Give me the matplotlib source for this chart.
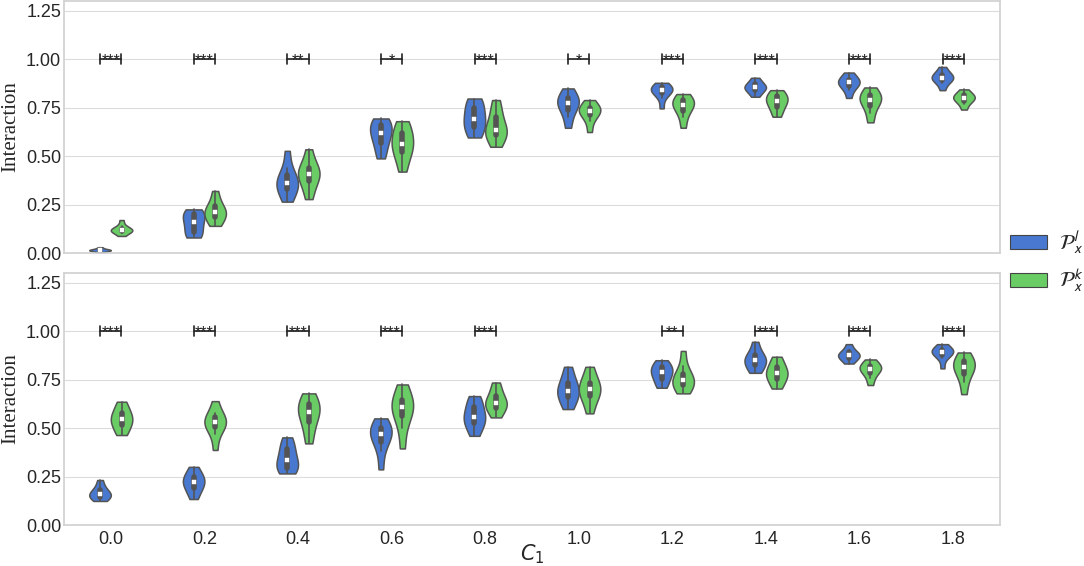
import numpy as np
import pandas as pd
import matplotlib
matplotlib.use("Agg")
import matplotlib.pyplot as plt
import seaborn as sns
from matplotlib.patches import Patch
from matplotlib.font_manager import FontProperties

c1_labels = ["0.0", "0.2", "0.4", "0.6", "0.8", "1.0", "1.2", "1.4", "1.6", "1.8"]
groups = ["l", "k"]
legend_labels = [r"$\mathcal{P}^l_x$", r"$\mathcal{P}^k_x$"]

# estimated samples (top panel, P^l)
top_l = [
    [0.005, 0.010, 0.012, 0.014, 0.015, 0.016, 0.018, 0.022, 0.030],
    [0.080, 0.090, 0.110, 0.140, 0.160, 0.180, 0.200, 0.210, 0.225],
    [0.265, 0.300, 0.330, 0.350, 0.362, 0.375, 0.400, 0.440, 0.527],
    [0.488, 0.530, 0.570, 0.600, 0.617, 0.640, 0.660, 0.680, 0.694],
    [0.596, 0.620, 0.650, 0.675, 0.690, 0.720, 0.750, 0.780, 0.797],
    [0.646, 0.700, 0.740, 0.760, 0.772, 0.785, 0.800, 0.820, 0.849],
    [0.746, 0.800, 0.825, 0.835, 0.840, 0.845, 0.855, 0.865, 0.878],
    [0.806, 0.825, 0.840, 0.850, 0.854, 0.860, 0.870, 0.885, 0.904],
    [0.800, 0.840, 0.860, 0.872, 0.880, 0.886, 0.895, 0.910, 0.931],
    [0.840, 0.875, 0.890, 0.900, 0.904, 0.910, 0.920, 0.935, 0.960],
]
# top panel, P^k
top_k = [
    [0.088, 0.105, 0.112, 0.116, 0.118, 0.121, 0.126, 0.140, 0.170],
    [0.140, 0.160, 0.185, 0.200, 0.210, 0.220, 0.240, 0.270, 0.320],
    [0.278, 0.330, 0.370, 0.395, 0.407, 0.420, 0.440, 0.470, 0.535],
    [0.420, 0.480, 0.520, 0.545, 0.562, 0.590, 0.620, 0.650, 0.680],
    [0.548, 0.590, 0.610, 0.625, 0.634, 0.660, 0.700, 0.740, 0.789],
    [0.624, 0.680, 0.710, 0.725, 0.733, 0.740, 0.750, 0.765, 0.789],
    [0.646, 0.700, 0.735, 0.755, 0.763, 0.775, 0.790, 0.800, 0.820],
    [0.703, 0.730, 0.755, 0.775, 0.784, 0.795, 0.810, 0.825, 0.840],
    [0.674, 0.720, 0.760, 0.780, 0.789, 0.800, 0.815, 0.830, 0.854],
    [0.740, 0.770, 0.785, 0.795, 0.800, 0.806, 0.815, 0.825, 0.844],
]
# bottom panel, P^l
bot_l = [
    [0.124, 0.135, 0.145, 0.152, 0.160, 0.168, 0.180, 0.200, 0.232],
    [0.134, 0.170, 0.190, 0.210, 0.223, 0.235, 0.250, 0.270, 0.300],
    [0.266, 0.280, 0.295, 0.315, 0.335, 0.360, 0.390, 0.420, 0.452],
    [0.287, 0.380, 0.430, 0.455, 0.469, 0.485, 0.500, 0.520, 0.550],
    [0.460, 0.500, 0.525, 0.545, 0.558, 0.580, 0.610, 0.640, 0.665],
    [0.598, 0.630, 0.660, 0.680, 0.692, 0.710, 0.735, 0.770, 0.816],
    [0.708, 0.730, 0.755, 0.775, 0.787, 0.800, 0.815, 0.830, 0.850],
    [0.785, 0.800, 0.825, 0.840, 0.850, 0.860, 0.875, 0.900, 0.945],
    [0.833, 0.850, 0.862, 0.870, 0.876, 0.882, 0.890, 0.905, 0.933],
    [0.808, 0.860, 0.878, 0.888, 0.893, 0.898, 0.905, 0.915, 0.933],
]
# bottom panel, P^k
bot_k = [
    [0.464, 0.490, 0.515, 0.535, 0.545, 0.560, 0.580, 0.605, 0.636],
    [0.387, 0.470, 0.505, 0.520, 0.531, 0.540, 0.555, 0.580, 0.639],
    [0.421, 0.480, 0.530, 0.565, 0.584, 0.600, 0.625, 0.650, 0.679],
    [0.395, 0.500, 0.560, 0.590, 0.607, 0.620, 0.645, 0.680, 0.725],
    [0.555, 0.585, 0.605, 0.620, 0.630, 0.645, 0.665, 0.700, 0.735],
    [0.576, 0.630, 0.665, 0.685, 0.700, 0.715, 0.735, 0.770, 0.816],
    [0.679, 0.700, 0.720, 0.738, 0.747, 0.760, 0.780, 0.820, 0.898],
    [0.704, 0.730, 0.755, 0.772, 0.782, 0.795, 0.815, 0.840, 0.868],
    [0.722, 0.760, 0.785, 0.800, 0.806, 0.812, 0.822, 0.835, 0.854],
    [0.675, 0.740, 0.780, 0.805, 0.816, 0.828, 0.845, 0.865, 0.890],
]
stars_top = ["***", "***", "**", "*", "***", "*", "***", "***", "***", "***"]
stars_bot = ["***", "***", "***", "***", "***", "", "**", "***", "***", "***"]

sns.set_style("whitegrid")
plt.rcParams["font.family"] = ["Liberation Sans", "DejaVu Sans"]
plt.rcParams["axes.edgecolor"] = "#d0d0d0"
plt.rcParams["grid.color"] = "#dcdcdc"

palette = {"l": "#4878d0", "k": "#6acc64"}


def long_frame(lv, kv):
    rows = []
    for lab, sl, sk in zip(c1_labels, lv, kv):
        for v in sl:
            rows.append((lab, "l", v))
        for v in sk:
            rows.append((lab, "k", v))
    return pd.DataFrame(rows, columns=["C1", "grp", "val"])


fig = plt.figure(figsize=(10.84, 5.66), dpi=100)
ax_top = fig.add_axes([64 / 1084, 1 - 253 / 566, 936 / 1084, 252 / 566])
ax_bot = fig.add_axes([64 / 1084, 1 - 525 / 566, 936 / 1084, 252 / 566])

ver = tuple(int(p) for p in sns.__version__.split(".")[:2])

for ax, lv, kv, stars in [(ax_top, top_l, top_k, stars_top), (ax_bot, bot_l, bot_k, stars_bot)]:
    df = long_frame(lv, kv)
    kw = dict(data=df, x="C1", y="val", hue="grp", order=c1_labels, hue_order=groups,
              palette=palette, cut=0, width=0.46, inner="box", linewidth=1.1, ax=ax)
    if ver >= (0, 13):
        kw.update(density_norm="width", legend=False, saturation=1,
                  inner_kws=dict(marker="s", box_width=4, whis_width=1.2))
        sns.violinplot(**kw)
    else:
        kw.update(scale="width", saturation=1)
        sns.violinplot(**kw)
        if ax.get_legend() is not None:
            ax.get_legend().remove()
    for ln in ax.lines:
        if ln.get_marker() == "s":
            ln.set_markersize(2.6)
            ln.set_markeredgewidth(0.3)
    ax.set_ylim(0, 1.3)
    ax.set_xlim(-0.5, len(c1_labels) - 0.5)
    ax.set_yticks([0, 0.25, 0.5, 0.75, 1.0, 1.25])
    ax.set_yticklabels(["0.00", "0.25", "0.50", "0.75", "1.00", "1.25"])
    ax.tick_params(axis="both", labelsize=13, length=0, pad=2)
    ax.set_ylabel("Interaction", family="Liberation Serif", fontsize=15, labelpad=4)
    ax.xaxis.grid(False)
    ax.yaxis.grid(True)
    for sp in ax.spines.values():
        sp.set_color("#d0d0d0")
        sp.set_linewidth(1.2)
    for i, s in enumerate(stars):
        if not s:
            continue
        x1, x2 = i - 0.1125, i + 0.1125
        ax.plot([x1, x2], [1.0, 1.0], color="#222222", lw=1.2, zorder=5)
        ax.plot([x1, x1], [0.975, 1.025], color="#222222", lw=1.2, zorder=5)
        ax.plot([x2, x2], [0.975, 1.025], color="#222222", lw=1.2, zorder=5)
        ax.text(i, 0.968, s, ha="center", va="baseline", fontsize=11.5, color="#222222", zorder=6)

ax_top.set_xticklabels([])
ax_top.set_xlabel("")
ax_bot.set_xticks(range(len(c1_labels)))
ax_bot.set_xticklabels(c1_labels)
ax_bot.tick_params(axis="x", pad=4)
ax_bot.set_xlabel(r"$C_1$", fontsize=15, labelpad=-4)

handles = [Patch(facecolor=palette[g], edgecolor="#444444", linewidth=0.8) for g in groups]
fig.legend(handles, legend_labels, loc="center left", bbox_to_anchor=(1002 / 1084, 0.537),
           frameon=False, prop=FontProperties(size=15, math_fontfamily="stixsans"),
           handlelength=1.75, handleheight=0.62, labelspacing=0.5, handletextpad=0.6,
           borderaxespad=0)

fig.savefig("out.png", dpi=100)
